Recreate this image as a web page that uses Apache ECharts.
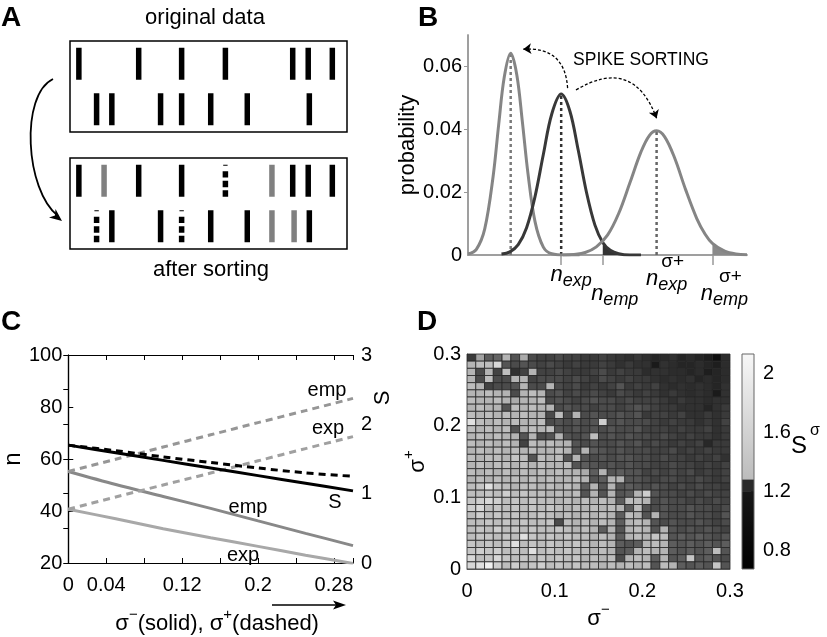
<!DOCTYPE html>
<html><head><meta charset="utf-8">
<script src="https://cdn.jsdelivr.net/npm/echarts@6/dist/echarts.min.js"></script>
<style>html,body{margin:0;padding:0;background:#fff}#chart{width:827px;height:637px}</style>
</head><body><div id="chart"></div>
<script>
const FONT = "'Liberation Sans', Arial, Helvetica, sans-serif";

// ---------- Panel A: spike times (time units 0-100 across the box) ----------
const rowLevel = [1.5, 0.5];
const origRow1 = [3.2, 24.8, 40.3, 56.1, 80.4, 86.0, 94.7];
const origRow2 = [9.6, 15.1, 32.7, 40.3, 50.8, 64.0, 86.4];
const sortedRow1Kept = [3.2, 24.8, 40.3, 80.4, 86.0, 94.7];
const sortedRow1Added = [12.3, 72.9];
const sortedRow1Removed = [56.1];
const sortedRow2Kept = [15.1, 32.7, 50.8, 64.0, 86.4];
const sortedRow2Added = [72.9, 80.9];
const sortedRow2Removed = [9.6, 40.3];

// ---------- Panel B: count distributions (x in arbitrary count units 0-100) ----------
const bCurveLeft = [[0,0.0003],[3,0.0018],[6,0.0083],[9,0.025],[11,0.0415],[13,0.0566],[15.3,0.0642],[17.5,0.0573],[19.5,0.0423],[21.5,0.0259],[24,0.0107],[27,0.0025],[30,0.0004],[35,0],[40,0]];
const bCurveMid = [[12,0.0003],[15,0.001],[18,0.0033],[21,0.0087],[24,0.0185],[27,0.032],[30,0.0448],[33.4,0.0512],[36.5,0.0458],[39.5,0.0334],[42.5,0.0198],[45.5,0.0095],[48.3,0.004],[51,0.0015],[54,0.0004],[58,0],[62,0]];
const bCurveRight = [[34,0],[38,0.0002],[42,0.0008],[46,0.0026],[50,0.0063],[54,0.0132],[58,0.0229],[62,0.0328],[65,0.038],[67.6,0.0395],[70.5,0.0376],[74,0.031],[78,0.0208],[82,0.0116],[85,0.0066],[87.6,0.0037],[92,0.0012],[96,0.0003],[100,0.0001]];
const bUpperPos = [33.4, 67.6];
const bUpperLabels = ['{n|n}{sub|exp}', '{sp|σ+}\n{n|n}{sub|exp}'];
const bLowerPos = [48.3, 87.6];
const bLowerLabels = ['{sp| }\n{n|n}{sub|emp}', '{sp|σ+}\n{n|n}{sub|emp}'];
const bTickPos = [33.4, 48.3, 87.6];
const bYLabels = [0, 0.02, 0.04, 0.06];
const bArrow1 = [[35.7, 0.0531], [19.8, 0.0655]];
const bArrow2 = [[38.7, 0.0525], [67.6, 0.0435]];

// ---------- Panel C ----------
const cSigma = [0, 0.05, 0.1, 0.15, 0.2, 0.25, 0.3];
const cSSolid = [1.70, 1.59, 1.48, 1.37, 1.26, 1.15, 1.04];
const cSDashed = [1.70, 1.62, 1.53, 1.45, 1.37, 1.30, 1.25];
const cEmpSolid = [55.2, 50.2, 45.6, 41.0, 36.2, 31.4, 26.7];
const cExpSolid = [40.7, 37.0, 33.2, 29.7, 26.4, 23.0, 19.8];
const cEmpDashed = [55.2, 59.9, 64.6, 69.3, 74.0, 78.6, 83.3];
const cExpDashed = [40.7, 45.4, 50.0, 54.6, 59.3, 64.0, 68.6];
const cXLabels = [0, 0.04, 0.12, 0.2, 0.28];
const cSLabels = [0, 1, 2, 3];

// ---------- Panel D: S^sigma over (sigma-, sigma+) grid ----------
const sigmaMinus = [0,0.01,0.02,0.03,0.04,0.05,0.06,0.07,0.08,0.09,0.1,0.11,0.12,0.13,0.14,0.15,0.16,0.17,0.18,0.19,0.2,0.21,0.22,0.23,0.24,0.25,0.26,0.27,0.28,0.29];
const sigmaPlus  = [0,0.01,0.02,0.03,0.04,0.05,0.06,0.07,0.08,0.09,0.1,0.11,0.12,0.13,0.14,0.15,0.16,0.17,0.18,0.19,0.2,0.21,0.22,0.23,0.24,0.25,0.26,0.27,0.28,0.29];
const cellStep = 0.01;
// rows listed from top (sigma+ = 0.29) to bottom (sigma+ = 0)
const heatRowsTopDown = [
[1.00,1.60,1.20,1.25,1.70,1.15,1.65,1.10,1.05,1.05,1.10,1.05,1.05,1.00,1.00,1.05,1.00,0.98,0.95,1.00,0.95,0.88,0.92,0.95,0.88,0.92,0.88,0.84,0.75,0.92],
[1.70,1.75,1.75,1.90,1.15,1.10,1.15,1.10,1.05,1.10,1.05,1.00,1.05,1.00,1.00,1.05,1.00,0.95,1.00,0.95,0.95,0.82,0.95,0.92,0.88,0.88,0.92,0.88,0.84,0.92],
[1.70,1.10,1.70,1.05,1.75,0.95,1.05,1.70,1.05,1.05,1.10,1.05,1.00,1.00,1.05,1.10,1.00,1.05,1.00,1.00,0.92,0.95,0.95,0.92,0.92,0.88,0.92,0.84,0.88,0.92],
[1.70,1.10,1.75,1.10,1.10,1.70,1.70,1.05,1.10,1.10,1.10,1.05,1.10,1.05,1.00,1.10,1.05,1.00,1.05,1.00,1.00,0.95,0.92,0.95,0.92,0.95,0.88,0.92,0.88,0.92],
[1.75,1.70,1.05,1.10,1.10,1.15,1.70,1.10,1.10,1.70,1.10,1.05,1.10,1.00,1.05,1.00,1.05,1.15,1.00,1.05,1.00,1.05,0.95,0.92,0.95,0.92,0.95,0.92,0.88,0.95],
[1.70,1.70,1.75,1.70,1.70,1.10,1.70,1.75,1.70,1.10,1.15,1.05,1.10,1.05,1.10,1.05,1.00,1.10,1.05,1.00,1.05,1.00,0.95,1.00,0.95,0.92,0.95,0.92,0.82,0.95],
[1.75,1.70,1.70,1.75,1.70,1.65,1.70,1.70,1.75,1.10,1.15,1.10,1.05,1.10,1.15,1.10,1.10,1.05,1.10,1.05,1.05,1.05,1.00,0.95,1.00,0.95,0.95,0.92,0.95,0.95],
[1.70,1.75,1.70,1.70,1.15,1.75,1.70,1.75,1.70,1.70,1.10,1.15,1.10,1.10,1.05,1.10,1.10,1.05,1.10,1.15,1.10,1.05,1.00,1.00,0.95,0.95,0.95,0.88,0.95,1.00],
[1.75,1.70,1.75,1.70,1.75,1.70,1.75,1.70,1.70,1.10,1.75,1.10,1.70,1.10,1.15,1.10,1.10,1.15,1.10,1.15,1.00,1.05,1.05,1.00,1.05,0.95,0.95,1.00,0.95,1.00],
[1.95,1.75,1.70,1.75,1.70,1.75,1.70,1.70,1.75,1.10,1.15,1.10,1.15,1.10,1.15,1.85,1.10,1.15,1.10,1.10,1.10,1.05,1.00,1.05,1.00,1.00,0.95,1.00,0.95,1.05],
[1.75,1.70,1.75,1.70,1.75,1.15,1.70,1.75,1.70,1.75,1.15,1.10,1.15,1.10,1.15,1.10,1.15,1.10,1.10,1.15,1.05,1.05,1.05,1.00,1.05,1.00,1.00,1.05,0.95,1.00],
[1.70,1.75,1.70,1.75,1.70,1.70,1.15,1.70,1.10,1.15,1.70,1.15,1.10,1.15,1.75,1.10,1.15,1.10,1.15,1.10,1.10,1.05,1.10,1.05,1.00,1.05,1.00,1.00,0.95,1.00],
[1.75,1.70,1.75,1.70,1.75,1.70,1.05,1.75,1.70,1.75,1.70,1.70,1.15,1.10,1.15,1.10,1.10,1.15,1.10,1.15,1.05,1.10,1.05,1.00,1.05,1.00,1.05,0.90,1.00,1.00],
[1.70,1.75,1.70,1.75,1.70,1.75,1.70,1.75,1.70,1.70,1.75,1.70,1.15,1.70,1.20,1.15,1.10,1.15,1.10,1.10,1.10,1.05,1.05,1.10,1.00,1.05,1.00,1.05,1.00,1.00],
[1.75,1.70,1.75,1.75,1.70,1.80,1.75,1.15,1.75,1.70,1.75,1.15,1.70,1.15,1.10,1.15,1.10,1.15,1.15,1.10,1.10,1.05,1.10,1.05,1.05,1.00,1.05,1.00,1.05,0.95],
[1.70,1.75,1.70,1.75,1.75,1.70,1.75,1.70,1.75,1.70,1.70,1.75,1.15,1.20,1.15,1.10,1.15,1.10,1.15,1.10,1.10,1.05,1.05,1.10,1.05,1.05,1.00,1.05,1.00,1.05],
[1.75,1.70,1.75,1.70,1.75,1.70,1.75,1.70,1.75,1.70,1.75,1.70,1.70,1.65,1.20,1.70,1.15,1.20,1.15,1.15,1.05,1.10,1.05,1.10,1.05,1.10,1.00,1.05,1.00,1.05],
[1.70,1.75,1.70,1.75,1.70,1.75,1.70,1.75,1.70,1.75,1.70,1.70,1.75,1.70,1.15,1.20,1.70,1.70,1.15,1.15,1.10,1.05,1.10,1.10,1.05,1.05,1.10,1.05,1.00,1.05],
[1.75,1.80,1.95,1.80,1.75,1.70,1.75,1.75,1.70,1.75,1.70,1.75,1.70,1.20,1.70,1.15,1.70,1.15,1.20,1.15,1.10,1.15,1.10,1.05,1.10,1.05,1.10,1.05,1.05,1.00],
[1.75,1.75,1.80,1.75,1.85,1.75,1.80,1.75,1.75,1.70,1.75,1.70,1.75,1.15,1.70,1.15,1.70,1.15,1.20,1.70,1.85,1.15,1.10,1.10,1.05,1.10,1.05,1.10,1.05,1.05],
[1.80,1.85,1.90,1.85,1.75,1.80,1.75,1.80,1.75,1.75,1.70,1.75,1.70,1.75,1.70,1.75,1.70,1.20,1.75,1.75,1.70,1.10,1.15,1.10,1.10,1.05,1.10,1.05,1.10,1.05],
[1.85,1.90,1.75,1.80,1.75,1.80,1.75,1.80,1.75,1.80,1.75,1.70,1.75,1.70,1.75,1.70,1.75,1.70,1.20,1.75,1.15,1.10,1.15,1.10,1.10,1.15,1.10,1.10,1.05,1.10],
[1.75,1.85,1.75,1.80,1.75,1.80,1.75,1.75,1.80,1.75,1.70,1.75,1.70,1.75,1.70,1.75,1.70,1.20,1.75,1.70,1.15,1.70,1.15,1.10,1.10,1.15,1.10,1.10,1.05,1.15],
[1.75,1.75,1.80,1.75,1.80,1.75,1.80,1.75,1.75,1.80,1.10,1.75,1.70,1.75,1.70,1.75,1.70,1.20,1.70,1.75,1.70,1.15,1.10,1.15,1.10,1.10,1.15,1.10,1.05,1.10],
[1.75,1.80,1.75,1.85,1.75,1.80,1.75,1.80,1.75,1.75,1.80,1.75,1.70,1.75,1.70,1.20,1.70,1.15,1.70,1.75,1.70,1.15,1.70,1.15,1.10,1.15,1.10,1.15,1.10,1.05],
[1.75,1.80,1.80,1.75,1.80,1.75,1.95,1.80,1.75,1.80,1.75,1.80,1.75,1.75,1.70,1.75,1.70,1.20,1.70,1.75,1.70,1.80,1.75,1.15,1.20,1.15,1.20,1.15,1.10,1.15],
[1.80,1.75,1.80,1.75,1.80,1.95,1.75,1.80,1.75,1.80,1.75,1.75,1.80,1.75,1.70,1.75,1.70,1.20,1.15,1.20,1.70,1.75,1.70,1.20,1.15,1.20,1.15,1.20,1.15,1.20],
[1.80,1.85,1.80,1.85,1.75,1.80,1.75,1.95,1.75,1.80,1.75,1.80,1.75,1.75,1.70,1.75,1.70,1.15,1.20,1.70,1.75,1.70,1.70,1.20,1.15,1.20,1.15,1.20,1.75,1.15],
[1.90,1.75,1.80,1.90,1.80,1.75,1.80,1.75,1.80,1.75,1.80,1.75,1.80,1.70,1.75,1.70,1.75,1.10,1.70,1.75,1.70,1.20,1.70,1.15,1.20,1.80,1.15,1.20,1.15,1.10],
[1.90,1.95,2.05,1.85,1.75,1.85,1.75,1.80,1.85,1.75,1.80,1.75,1.80,1.75,1.75,1.70,1.75,1.70,1.75,1.70,1.75,1.15,1.75,1.70,1.20,1.15,1.20,1.15,1.80,1.15]
];
const heatMin = 0.67, heatMax = 2.13;
const cbSegments = [0.671, 0.529, 0.08, 0.851]; // stacked: hidden base, dark, band, light
const cbTicks = [0.8, 1.0, 1.2, 1.4, 1.6, 1.8, 2.0];
const cbLabels = [0.8, 1.2, 1.6, 2];

// ---------- build ----------
const chart = echarts.init(document.getElementById('chart'), null, {renderer: 'canvas'});

const dottedSpike = 'path://M0.5,0h4v1h-4zM0,6h5v6h-5zM0,15h5v6h-5zM0,24h5v6h-5z';
function spikes(axis, rows, color, symbol) {
  const data = [];
  rows.forEach((times, r) => times.forEach(t => data.push([t, rowLevel[r]])));
  return {type: 'scatter', xAxisIndex: axis, yAxisIndex: axis, symbol: symbol || 'rect',
    symbolSize: [5.5, 32], itemStyle: {color: color, opacity: 1}, data: data, silent: true, z: 5};
}
const hiddenX = g => ({gridIndex: g, type: 'value', min: 0, max: 100, show: false});
const hiddenY = g => ({gridIndex: g, type: 'value', min: 0, max: 2, show: false});

function peakOf(curve) { return curve.reduce((a, b) => (b[1] > a[1] ? b : a)); }
function vline(curve, color) {
  const p = peakOf(curve);
  return {type: 'line', xAxisIndex: 2, yAxisIndex: 2, data: [[p[0], 0], [p[0], p[1]]], showSymbol: false,
    lineStyle: {color: color, width: 2.5, type: [3, 3]}, z: 3, silent: true};
}
function bCurve(data, color) {
  return {type: 'line', xAxisIndex: 2, yAxisIndex: 2, data: data, smooth: 0.35, showSymbol: false,
    lineStyle: {color: color, width: 3}, z: 4, silent: true};
}
function tail(data, from, color) {
  return {type: 'line', xAxisIndex: 2, yAxisIndex: 2, data: data.filter(d => d[0] >= from), smooth: 0.35,
    showSymbol: false, lineStyle: {width: 0}, areaStyle: {color: color, opacity: 1}, z: 2, silent: true};
}
function cLine(vals, yi, color, dashed, z) {
  return {type: 'line', xAxisIndex: 4, yAxisIndex: yi, data: cSigma.map((s, i) => [s, vals[i]]),
    smooth: 0.3, showSymbol: false, lineStyle: {color: color, width: 3, type: dashed ? [7, 5] : 'solid'}, z: z || 3, silent: true};
}
function pick(pos, labels) {
  return function (v) { let k = 0; pos.forEach((p, i) => { if (Math.abs(p - v) < Math.abs(pos[k] - v)) k = i; }); return labels[k]; };
}

const heatData = [];
heatRowsTopDown.forEach((row, i) => {
  const y = sigmaPlus[sigmaPlus.length - 1 - i];
  row.forEach((v, c) => heatData.push([sigmaMinus[c], y, v]));
});

const series = [
  spikes(0, [origRow1, origRow2], '#000'),
  spikes(1, [sortedRow1Kept, sortedRow2Kept], '#000'),
  spikes(1, [sortedRow1Added, sortedRow2Added], '#808080'),
  spikes(1, [sortedRow1Removed, sortedRow2Removed], '#000', dottedSpike),
  tail(bCurveMid, bLowerPos[0], '#333'),
  tail(bCurveRight, bLowerPos[1], '#8a8a8a'),
  bCurve(bCurveLeft, '#858585'),
  bCurve(bCurveMid, '#383838'),
  bCurve(bCurveRight, '#858585'),
  vline(bCurveLeft, '#7a7a7a'),
  vline(bCurveMid, '#333'),
  vline(bCurveRight, '#666'),
  {type: 'lines', coordinateSystem: 'cartesian2d', xAxisIndex: 2, yAxisIndex: 2, symbol: ['none', 'arrow'], symbolSize: 8,
    lineStyle: {color: '#000', width: 1.3, type: [3, 2], opacity: 1},
    data: [{coords: bArrow1, lineStyle: {curveness: -0.5}}, {coords: bArrow2, lineStyle: {curveness: 0.6}}], z: 6, silent: true},
  cLine(cExpSolid, 4, '#a8a8a8', false),
  cLine(cEmpSolid, 4, '#888888', false),
  cLine(cExpDashed, 4, '#a0a0a0', true),
  cLine(cEmpDashed, 4, '#969696', true),
  cLine(cSDashed, 5, '#000', true, 5),
  cLine(cSSolid, 5, '#000', false, 6)
];
const heatIdx = series.length;
series.push({
  type: 'custom', xAxisIndex: 6, yAxisIndex: 6, data: heatData, encode: {x: 0, y: 1}, silent: true,
  renderItem: function (params, api) {
    const x = api.value(0), y = api.value(1);
    const p0 = api.coord([x, y + cellStep]);
    const p1 = api.coord([x + cellStep, y]);
    return {type: 'rect', shape: {x: p0[0], y: p0[1], width: p1[0] - p0[0], height: p1[1] - p0[1]},
      style: {fill: api.visual('color'), stroke: '#262626', lineWidth: 0.8}};
  }
});
const cbColors = [
  'rgba(0,0,0,0)',
  {type: 'linear', x: 0, y: 0, x2: 0, y2: 1, colorStops: [{offset: 0, color: '#171717'}, {offset: 1, color: '#000'}]},
  '#2a2a2a',
  {type: 'linear', x: 0, y: 0, x2: 0, y2: 1, colorStops: [{offset: 0, color: '#f7f7f7'}, {offset: 1, color: '#bcbcbc'}]}
];
cbSegments.forEach((v, i) => series.push({type: 'bar', xAxisIndex: 7, yAxisIndex: 7, stack: 'cb', barWidth: '100%',
  data: [v], itemStyle: {color: cbColors[i]}, silent: true, z: 2}));

const richB = {
  n: {fontSize: 22, fontStyle: 'italic', lineHeight: 30, verticalAlign: 'middle', fontFamily: FONT, color: '#000'},
  sub: {fontSize: 18, fontStyle: 'italic', lineHeight: 16, verticalAlign: 'bottom', fontFamily: FONT, color: '#000'},
  sp: {fontSize: 19, lineHeight: 4, fontFamily: FONT, color: '#000', padding: [0, 0, 0, 12]}
};
const richSig = {
  t: {fontSize: 22, lineHeight: 28, verticalAlign: 'bottom', fontFamily: FONT, color: '#000'},
  sup: {fontSize: 15, lineHeight: 14, verticalAlign: 'top', fontFamily: FONT, color: '#000'}
};
const lab = {fontSize: 20, color: '#000', fontFamily: FONT};

function txt(t, x, y, size, extra) {
  return Object.assign({type: 'text', x: x, y: y, z: 100, silent: true,
    style: Object.assign({text: t, fontSize: size, fontFamily: FONT, fill: '#000', align: 'center', verticalAlign: 'middle'}, extra || {})});
}

const option = {
  backgroundColor: '#fff',
  animation: false,
  textStyle: {fontFamily: FONT},
  grid: [
    {left: 70, top: 41, width: 277, height: 91, show: true, borderColor: '#000', borderWidth: 1.5, backgroundColor: 'transparent'},
    {left: 70, top: 158, width: 277, height: 91, show: true, borderColor: '#000', borderWidth: 1.5, backgroundColor: 'transparent'},
    {left: 468, top: 35, width: 279, height: 220},
    {left: 67, top: 355, width: 286, height: 208},
    {left: 467, top: 354, width: 263, height: 215},
    {left: 742, top: 354, width: 12, height: 215, show: true, z: 10, borderColor: '#666', borderWidth: 1, backgroundColor: 'transparent'},
    {left: 468, top: 235, width: 279, height: 20}
  ],
  xAxis: [
    hiddenX(0), hiddenX(1),
    {gridIndex: 2, type: 'value', min: 0, max: 100, splitLine: {show: false},
      axisLine: {lineStyle: {color: '#999', width: 1.5}},
      axisTick: {show: true, inside: false, length: 10, customValues: bTickPos, lineStyle: {color: '#999', width: 1.5}},
      axisLabel: {customValues: bUpperPos, margin: 5, hideOverlap: false, color: '#000', rich: richB,
        padding: [0, 0, 0, 20], formatter: pick(bUpperPos, bUpperLabels)}},
    {gridIndex: 2, type: 'value', min: 0, max: 100, position: 'top', splitLine: {show: false},
      axisLine: {lineStyle: {color: '#999', width: 1.5}}, axisTick: {show: false}, axisLabel: {show: false}},
    {gridIndex: 3, type: 'value', min: 0, max: 0.3, interval: 0.04, splitLine: {show: false},
      axisLine: {lineStyle: {color: '#000', width: 1.2}},
      axisTick: {inside: true, length: 5, lineStyle: {color: '#000'}},
      axisLabel: Object.assign({customValues: cXLabels, margin: 12, formatter: v => String(v)}, lab),
      name: '{t|σ}{sup|−}{t|(solid), σ}{sup|+}{t|(dashed)}', nameLocation: 'middle', nameGap: 44,
      nameTextStyle: {rich: richSig, padding: [0, 0, 0, 13]}},
    {gridIndex: 3, type: 'value', min: 0, max: 0.3, interval: 0.04, position: 'top', splitLine: {show: false},
      axisLine: {lineStyle: {color: '#000', width: 1.2}},
      axisTick: {inside: true, length: 5, lineStyle: {color: '#000'}}, axisLabel: {show: false}},
    {gridIndex: 4, type: 'value', min: 0, max: 0.3, interval: 0.1, splitLine: {show: false},
      axisLine: {lineStyle: {color: '#777', width: 1}}, axisTick: {show: false},
      axisLabel: Object.assign({margin: 12, formatter: v => (v === 0 ? '0' : String(+v.toFixed(1)))}, lab),
      name: '{t|σ}{sup|−}', nameLocation: 'middle', nameGap: 24, nameTextStyle: {rich: richSig}},
    {gridIndex: 5, type: 'category', data: ['cb'], show: false},
    {gridIndex: 6, type: 'value', min: 0, max: 100, splitLine: {show: false}, axisLine: {show: false}, axisTick: {show: false},
      axisLabel: {customValues: bLowerPos, margin: 20, hideOverlap: false, color: '#000', rich: richB,
        padding: [0, 0, 0, 24], formatter: pick(bLowerPos, bLowerLabels)}}
  ],
  yAxis: [
    hiddenY(0), hiddenY(1),
    {gridIndex: 2, type: 'value', min: 0, max: 0.07, splitLine: {show: false},
      axisLine: {show: true, lineStyle: {color: '#999', width: 1.5}}, axisTick: {show: false},
      axisLabel: Object.assign({customValues: bYLabels, margin: 6, formatter: v => (v === 0 ? '0' : v.toFixed(2))}, lab),
      name: 'probability', nameLocation: 'middle', nameRotate: 90, nameGap: 48,
      nameTextStyle: {fontSize: 22, color: '#000', fontFamily: FONT}},
    {gridIndex: 2, type: 'value', min: 0, max: 0.07, position: 'right', splitLine: {show: false},
      axisLine: {show: true, lineStyle: {color: '#999', width: 1.5}},
      axisTick: {show: true, inside: true, length: 4, customValues: [0.02, 0.04, 0.06], lineStyle: {color: '#999'}},
      axisLabel: {show: false}},
    {gridIndex: 3, type: 'value', min: 20, max: 100, interval: 20, splitLine: {show: false},
      axisLine: {show: true, lineStyle: {color: '#000', width: 1.2}},
      axisTick: {show: true, inside: true, length: 5, lineStyle: {color: '#000'}},
      axisLabel: Object.assign({margin: 6}, lab),
      name: 'n', nameLocation: 'middle', nameRotate: 90, nameGap: 32,
      nameTextStyle: {fontSize: 24, color: '#000', fontFamily: FONT}},
    {gridIndex: 3, type: 'value', min: 0, max: 3, interval: 0.5, position: 'right', splitLine: {show: false},
      axisLine: {show: true, lineStyle: {color: '#000', width: 1.2}},
      axisTick: {show: true, inside: true, length: 5, lineStyle: {color: '#000'}},
      axisLabel: Object.assign({customValues: cSLabels, margin: 8}, lab)},
    {gridIndex: 4, type: 'value', min: 0, max: 0.3, interval: 0.1, splitLine: {show: false},
      axisLine: {show: true, lineStyle: {color: '#777', width: 1}}, axisTick: {show: false},
      axisLabel: Object.assign({margin: 6, formatter: v => (v === 0 ? '0' : String(+v.toFixed(1)))}, lab),
      name: '{t|σ}{sup|+}', nameLocation: 'middle', nameRotate: 90, nameGap: 32, nameTextStyle: {rich: richSig}},
    {gridIndex: 5, type: 'value', min: 0.671, max: 2.131, position: 'right', splitLine: {show: false},
      axisLine: {show: false},
      axisTick: {show: true, inside: true, length: 3, customValues: cbTicks, lineStyle: {color: '#555'}},
      axisLabel: Object.assign({customValues: cbLabels, margin: 9, formatter: v => String(v)}, lab)},
    {gridIndex: 6, type: 'value', min: 0, max: 1, show: false}
  ],
  visualMap: [{type: 'continuous', show: false, min: heatMin, max: heatMax, dimension: 2, seriesIndex: heatIdx,
    inRange: {color: ['#000000', '#ffffff']}}],
  series: series,
  graphic: [
    txt('A', 11, 18, 28, {fontWeight: 'bold'}),
    txt('B', 428, 18, 28, {fontWeight: 'bold'}),
    txt('C', 11, 322, 28, {fontWeight: 'bold'}),
    txt('D', 427, 322, 28, {fontWeight: 'bold'}),
    txt('original data', 205, 18, 22),
    txt('after sorting', 211, 270, 22),
    txt('SPIKE SORTING', 641, 60, 17.5),
    txt('emp', 327, 390, 20),
    txt('exp', 328, 428, 20),
    txt('emp', 248, 507, 20),
    txt('exp', 243, 555, 20),
    txt('S', 335, 502, 20),
    Object.assign(txt('S', 383, 398, 22), {rotation: Math.PI / 2}),
    txt('S', 799, 446, 24),
    txt('σ', 815, 431, 16),
    {type: 'bezierCurve', z: 100, silent: true, shape: {x1: 53, y1: 79, cpx1: 20, cpy1: 95, cpx2: 25, cpy2: 190, x2: 58, y2: 216},
      style: {stroke: '#000', lineWidth: 1.8, fill: null}},
    {type: 'polygon', z: 100, silent: true, shape: {points: [[62, 221], [49, 217.5], [55, 215.5], [55.5, 209]]}, style: {fill: '#000'}},
    {type: 'line', z: 100, silent: true, shape: {x1: 272, y1: 605, x2: 338, y2: 605}, style: {stroke: '#000', lineWidth: 1.5}},
    {type: 'polygon', z: 100, silent: true, shape: {points: [[346, 605], [333, 600.5], [336, 605], [333, 609.5]]}, style: {fill: '#000'}}
  ]
};
chart.setOption(option);
</script></body></html>
